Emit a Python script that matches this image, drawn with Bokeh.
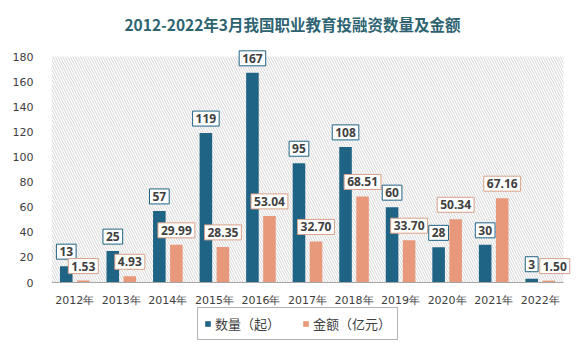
from bokeh.plotting import figure
from bokeh.models import Range1d, Label, Legend, LegendItem, BoxAnnotation, ColumnDataSource, FixedTicker
from bokeh.embed import file_html
from bokeh.resources import INLINE

years = ["2012年", "2013年", "2014年", "2015年", "2016年", "2017年", "2018年", "2019年", "2020年", "2021年", "2022年"]
counts = [13, 25, 57, 119, 167, 95, 108, 60, 28, 30, 3]
amounts = [1.53, 4.93, 29.99, 28.35, 53.04, 32.70, 68.51, 33.70, 50.34, 67.16, 1.50]
series_names = ["数量（起）", "金额（亿元）"]
y_ticks = [0, 20, 40, 60, 80, 100, 120, 140, 160, 180]
title_text = "2012-2022年3月我国职业教育投融资数量及金额"

BLUE = "#1f6385"
ORANGE = "#e8997b"
TXT = "#404040"

W, H = 578, 342
LEFT = 51
BAND_RIGHT = 563                    # pixel column where the category band ends
BAND_TOP, BAND_BOTTOM = 56, 282     # pixel rows of value 180 and value 0
YMAX = 180
ppu = (BAND_BOTTOM - BAND_TOP) / YMAX
y_end = YMAX + BAND_TOP / ppu
y_start = -(H - BAND_BOTTOM) / ppu
n = len(years)
x_end = n * (W - LEFT) / (BAND_RIGHT - LEFT)
TITLE_Y, TITLE_CX = 23, 292

centers = [i + 0.5 for i in range(n)]
off = 0.183
bw = 0.27
src = ColumnDataSource(dict(xc=[c - off for c in centers], xa=[c + off for c in centers],
                            count=counts, amount=amounts))

p = figure(x_range=Range1d(0, x_end), y_range=Range1d(y_start, y_end),
           width=W, height=H, output_backend="svg", toolbar_location=None,
           min_border_left=LEFT, min_border_right=0, min_border_top=0, min_border_bottom=0)

p.outline_line_color = None
p.xgrid.grid_line_color = None
p.ygrid.grid_line_color = None
p.background_fill_color = "white"
p.border_fill_color = "white"

hatch = BoxAnnotation(left=0, right=n, bottom=0, top=YMAX, fill_alpha=0, line_color=None,
                      hatch_pattern="\\", hatch_color="#d6d6d6", hatch_scale=5, hatch_weight=1,
                      level="underlay")
p.add_layout(hatch)

title = Label(x=n / 2, y=YMAX + (BAND_TOP - TITLE_Y) / ppu,
              x_offset=TITLE_CX - (LEFT + BAND_RIGHT) / 2, text=title_text,
              text_align="center", text_baseline="middle", text_font="Noto Sans CJK SC",
              text_font_size="15.5px", text_font_style="bold", text_color="#2e6472")
p.add_layout(title)

r1 = p.vbar(x="xc", top="count", width=bw, source=src, fill_color=BLUE, line_color=None)
r2 = p.vbar(x="xa", top="amount", width=bw, source=src, fill_color=ORANGE, line_color=None)

def add_box(xv, yv, txt, border, xoff=0):
    sh = Label(x=xv, y=yv, text=txt, x_offset=xoff + 2, y_offset=5, text_align="center",
               text_baseline="bottom", text_font="Open Sans", text_font_size="12px",
               text_font_style="bold", text_alpha=0, padding=3,
               background_fill_color="#000000", background_fill_alpha=0.13)
    p.add_layout(sh)
    lb = Label(x=xv, y=yv, text=txt, x_offset=xoff, y_offset=7, text_align="center",
               text_baseline="bottom", text_font="Open Sans", text_font_size="12px",
               text_font_style="bold", text_color=TXT, padding=3,
               background_fill_color="white", border_line_color=border, border_line_width=1)
    p.add_layout(lb)

for i, (c, a) in enumerate(zip(counts, amounts)):
    add_box(centers[i] - off, c, str(c), BLUE)
    add_box(centers[i] + off, a, f"{a:.2f}", "#d9a088", xoff=6 if i == n - 1 else 0)

p.yaxis.ticker = y_ticks
p.yaxis.axis_line_color = None
p.yaxis.major_tick_line_color = None
p.yaxis.minor_tick_line_color = None
p.yaxis.major_label_text_font = "DejaVu Sans"
p.yaxis.major_label_text_font_size = "11px"
p.yaxis.major_label_text_color = TXT
p.yaxis.major_label_standoff = 12

p.xaxis.fixed_location = 0
p.xaxis.bounds = (0, n)
p.xaxis.ticker = FixedTicker(ticks=centers, minor_ticks=[])
p.xaxis.major_label_overrides = {c: y for c, y in zip(centers, years)}
p.xaxis.axis_line_color = "#a6a6a6"
p.xaxis.major_tick_line_color = None
p.xaxis.minor_tick_line_color = None
p.xaxis.major_label_text_font = "DejaVu Sans"
p.xaxis.major_label_text_font_size = "11px"
p.xaxis.major_label_text_color = TXT
p.xaxis.major_label_standoff = 5

legend = Legend(items=[LegendItem(label=series_names[0], renderers=[r1]),
                       LegendItem(label=series_names[1], renderers=[r2])],
                orientation="horizontal", location=(146, 2),
                border_line_color="#b4b4b4", border_line_width=1, border_line_alpha=1,
                background_fill_color="white", background_fill_alpha=1,
                label_text_font="Noto Sans CJK SC", label_text_font_size="13px",
                label_text_color=TXT, glyph_width=7, glyph_height=7, spacing=22,
                padding=6, margin=0, label_standoff=4, label_height=14)
p.add_layout(legend, "center")

open("out.html", "w").write(file_html(p, INLINE))
